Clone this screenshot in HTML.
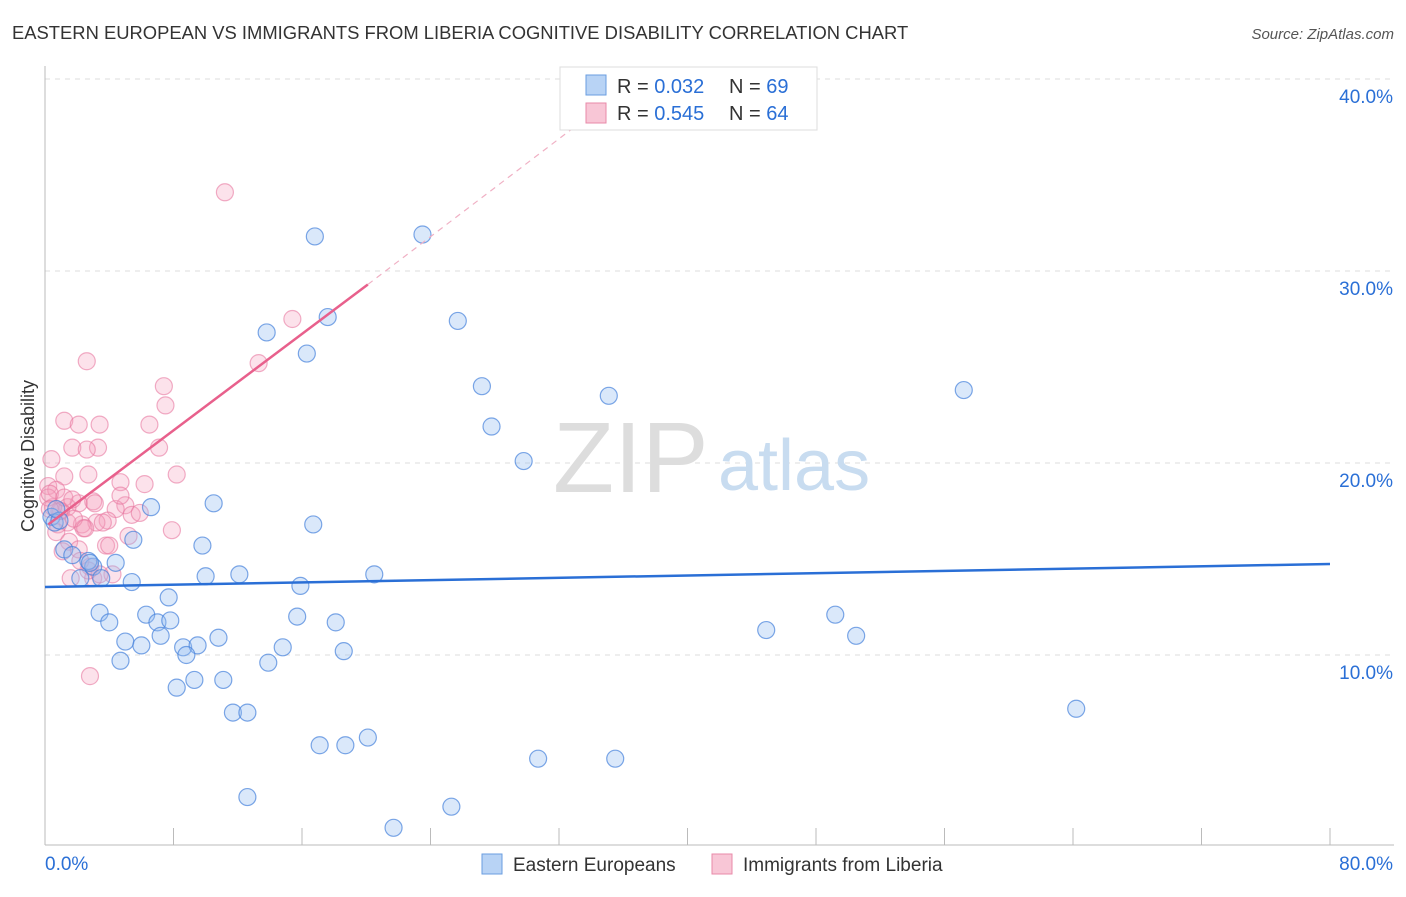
<!DOCTYPE html>
<html><head><meta charset="utf-8"><style>
body{margin:0;background:#fff;font-family:"Liberation Sans",sans-serif}
svg text{font-family:"Liberation Sans",sans-serif}
</style></head><body>
<svg id="chart" width="1406" height="892">
<text x="12" y="39" font-size="18.4" fill="#333">EASTERN EUROPEAN VS IMMIGRANTS FROM LIBERIA COGNITIVE DISABILITY CORRELATION CHART</text>
<text x="1394" y="39" font-size="15" fill="#555" font-style="italic" text-anchor="end">Source: ZipAtlas.com</text>
<text x="34" y="456" font-size="18" fill="#333" text-anchor="middle" transform="rotate(-90 34 456)">Cognitive Disability</text>
<g id="grid"></g>
<text x="553" y="492" font-size="100" fill="#ddd" font-family="Liberation Serif">ZIP</text>
<text x="718" y="490" font-size="72" fill="#c8dcf0">atlas</text>
<g id="marks"></g>
<g>
<rect x="560" y="67" width="257" height="63" fill="#fff" stroke="#ddd"/>
<rect x="586" y="75" width="20" height="20" fill="#b8d3f5" stroke="#6a9ee0"/>
<text x="617" y="93" font-size="20" fill="#333">R = <tspan fill="#2a6fd6">0.032</tspan></text>
<text x="729" y="93" font-size="20" fill="#333">N = <tspan fill="#2a6fd6">69</tspan></text>
<rect x="586" y="103" width="20" height="20" fill="#f8c6d6" stroke="#e88aa8"/>
<text x="617" y="120" font-size="20" fill="#333">R = <tspan fill="#2a6fd6">0.545</tspan></text>
<text x="729" y="120" font-size="20" fill="#333">N = <tspan fill="#2a6fd6">64</tspan></text>
</g>
<g>
<rect x="482" y="854" width="20" height="20" fill="#b8d3f5" stroke="#6a9ee0"/>
<text x="513" y="871" font-size="19" fill="#333">Eastern Europeans</text>
<rect x="712" y="854" width="20" height="20" fill="#f8c6d6" stroke="#e88aa8"/>
<text x="743" y="871" font-size="19" fill="#333">Immigrants from Liberia</text>
</g>
</svg>
<script>
const yTicks=[10,20,30,40];
const xTickLabels=["0.0%","80.0%"];
const blueX=[16.8,23.5,13.8,17.6,16.3,25.7,27.2,35.1,57.2,27.8,29.8,10.5,6.6,16.7,5.5,9.8,4.4,3.0,2.7,10.0,12.1,20.5,5.4,15.9,7.7,3.4,4.0,6.3,7.0,7.8,15.7,18.1,5.0,7.2,6.0,8.6,9.5,10.8,8.8,14.8,18.6,4.7,13.9,8.2,9.3,11.1,11.7,12.6,17.1,18.7,20.1,30.7,35.5,12.6,21.7,25.3,44.9,49.2,50.5,64.2,0.4,0.6,0.9,1.2,1.7,2.2,2.8,3.5,0.7];
const blueY=[31.8,31.9,26.8,27.6,25.7,27.4,24.0,23.5,23.8,21.9,20.1,17.9,17.7,16.8,16.0,15.7,14.8,14.6,14.9,14.1,14.2,14.2,13.8,13.6,13.0,12.2,11.7,12.1,11.7,11.8,12.0,11.7,10.7,11.0,10.5,10.4,10.5,10.9,10.0,10.4,10.2,9.7,9.6,8.3,8.7,8.7,7.0,7.0,5.3,5.3,5.7,4.6,4.6,2.6,1.0,2.1,11.3,12.1,11.0,7.2,17.2,16.9,17.0,15.5,15.2,14.0,14.8,14.0,17.6];
const pinkX=[11.2,15.4,13.3,2.6,7.4,7.5,1.2,3.4,2.1,6.5,7.1,1.7,3.3,2.6,0.4,8.2,2.7,4.7,1.2,6.2,0.2,0.7,5.0,3.0,2.1,1.4,1.0,0.5,4.4,5.4,3.9,7.9,3.2,2.3,1.4,0.8,2.4,5.2,0.7,1.5,3.8,2.1,1.1,2.8,1.6,3.0,4.2,2.7,2.8,0.2,0.3,0.9,1.8,2.5,4.0,4.7,3.6,5.9,3.1,0.3,1.2,1.7,2.2,3.4];
const pinkY=[34.1,27.5,25.2,25.3,24.0,23.0,22.2,22.0,22.0,22.0,20.8,20.8,20.8,20.7,20.2,19.4,19.4,19.0,19.3,18.9,18.8,18.6,17.8,18.0,17.9,17.7,17.5,17.7,17.6,17.3,17.0,16.5,16.9,16.8,16.9,16.8,16.6,16.2,16.4,15.9,15.7,15.5,15.4,14.6,14.0,14.0,14.2,14.4,8.9,18.2,18.4,17.5,17.1,16.6,15.7,18.3,16.9,17.4,17.9,17.6,18.2,18.1,14.9,14.2];
const blueTrend=[0,13.54,80,14.74];
const pinkTrendSolid=[0.2,16.8,20.1,29.3];
const pinkTrendDash=[20.1,29.3,37.2,40.2];
const X=v=>45+v*1285/80, Y=v=>847-v*19.2;
const ns="http://www.w3.org/2000/svg";
function mk(t,a,parent){const e=document.createElementNS(ns,t);for(const k in a)e.setAttribute(k,a[k]);parent.appendChild(e);return e;}
const grid=document.getElementById('grid'), marks=document.getElementById('marks');
for(const t of yTicks){
 const g=mk('line',{x1:45,x2:1394,y1:Y(t),y2:Y(t),stroke:'#ddd','stroke-dasharray':'5,5'},grid);
 
 
 const l=mk('text',{x:1393,y:Y(t)+24,'font-size':19,fill:'#2a6fd6','text-anchor':'end'},grid);
 l.textContent=t.toFixed(1)+'%';
 
 
}
const ya=mk('line',{x1:45,x2:45,y1:66,y2:845,stroke:'#bbb'},grid);


const xa=mk('line',{x1:45,x2:1394,y1:845,y2:845,stroke:'#bbb'},grid);


for(let i=0;i<=10;i++){const xv=i*8;const tk=mk('line',{x1:X(xv),x2:X(xv),y1:828,y2:845,stroke:'#bbb'},grid);
 
 }
const xl0=mk('text',{x:45,y:870,'font-size':19,fill:'#2a6fd6'},grid);xl0.textContent=xTickLabels[0];


const xl1=mk('text',{x:1393,y:870,'font-size':19,fill:'#2a6fd6','text-anchor':'end'},grid);xl1.textContent=xTickLabels[1];


pinkX.forEach((x,i)=>{const c=mk('circle',{cx:X(x),cy:Y(pinkY[i]),r:8.5,fill:'rgba(244,160,190,0.3)',stroke:'rgba(232,120,160,0.6)','stroke-width':1.2},marks);
 
 });
blueX.forEach((x,i)=>{const c=mk('circle',{cx:X(x),cy:Y(blueY[i]),r:8.5,fill:'rgba(150,190,240,0.35)',stroke:'rgba(70,130,220,0.7)','stroke-width':1.2},marks);
 
 });
const bt=mk('line',{x1:X(blueTrend[0]),y1:Y(blueTrend[1]),x2:X(blueTrend[2]),y2:Y(blueTrend[3]),stroke:'#2a6fd6','stroke-width':2.5},marks);


const pt=mk('line',{x1:X(pinkTrendSolid[0]),y1:Y(pinkTrendSolid[1]),x2:X(pinkTrendSolid[2]),y2:Y(pinkTrendSolid[3]),stroke:'#e8608c','stroke-width':2.5},marks);


const pd=mk('line',{x1:X(pinkTrendDash[0]),y1:Y(pinkTrendDash[1]),x2:X(pinkTrendDash[2]),y2:Y(pinkTrendDash[3]),stroke:'#f0b0c4','stroke-width':1.2,'stroke-dasharray':'6,5'},marks);


</script>
</body></html>
